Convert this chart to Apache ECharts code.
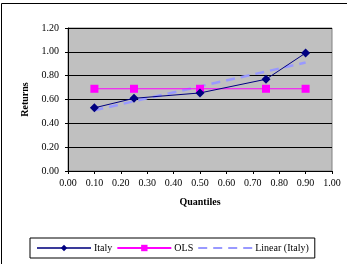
<!DOCTYPE html>
<html>
<head>
<meta charset="utf-8">
<script src="https://cdn.jsdelivr.net/npm/echarts@6/dist/echarts.min.js"></script>
<style>
  html, body { margin: 0; padding: 0; background: #fff; }
  #main { width: 351px; height: 264px; }
</style>
</head>
<body>
<div id="main"></div>
<script>
// data
const quantiles = [0.10, 0.25, 0.50, 0.75, 0.90];
const italy = [0.53, 0.61, 0.655, 0.77, 0.99];
const ols = [0.69, 0.69, 0.69, 0.69, 0.69];
const trendX = [0.10, 0.90];
const trendY = [0.51, 0.91];

const font = 'Liberation Serif';
const chart = echarts.init(document.getElementById('main'));

const option = {
  animation: false,
  textStyle: { fontFamily: font },
  grid: { left: 68, right: 19, top: 28, bottom: 93, show: true, backgroundColor: '#c0c0c0', borderColor: '#808080', borderWidth: 1 },
  xAxis: {
    type: 'value', min: 0, max: 1, interval: 0.1,
    name: 'Quantiles', nameLocation: 'middle', nameGap: 26,
    nameTextStyle: { fontFamily: font, fontWeight: 'bold', fontSize: 10, color: '#000' },
    axisLine: { lineStyle: { color: '#000' } },
    axisTick: { length: 3, lineStyle: { color: '#000' } },
    splitLine: { show: false },
    axisLabel: { fontFamily: font, fontSize: 10, color: '#000', margin: 7, formatter: v => v.toFixed(2) }
  },
  yAxis: {
    type: 'value', min: 0, max: 1.2, interval: 0.2,
    name: 'Returns', nameLocation: 'middle', nameGap: 38, nameRotate: 90,
    nameTextStyle: { fontFamily: font, fontWeight: 'bold', fontSize: 10, color: '#000' },
    axisLine: { show: true, lineStyle: { color: '#000' } },
    axisTick: { show: true, length: 3, lineStyle: { color: '#000' } },
    splitLine: { lineStyle: { color: '#000', width: 1 } },
    axisLabel: { fontFamily: font, fontSize: 10, color: '#000', margin: 9, formatter: v => v.toFixed(2) }
  },
  legend: {
    left: 30, top: 238, width: 280,
    itemWidth: 54, itemHeight: 8, itemGap: 4,
    padding: [5, 6, 5, 6],
    borderColor: '#000', borderWidth: 1, backgroundColor: '#fff',
    textStyle: { fontFamily: font, fontSize: 10, color: '#000', padding: [0, 0, 0, -2] },
    data: [
      { name: 'Italy', lineStyle: { width: 2, color: '#3a3a9a' } },
      'OLS',
      { name: 'Linear (Italy)', itemStyle: { opacity: 0 } }
    ]
  },
  series: [
    {
      name: 'Linear (Italy)', type: 'line', z: 2,
      data: trendX.map((x, i) => [x, trendY[i]]),
      symbol: 'none', lineStyle: { color: '#9999ff', width: 2.5, type: [9, 6] },
      itemStyle: { color: '#9999ff' }
    },
    {
      name: 'OLS', type: 'line', z: 3,
      data: quantiles.map((x, i) => [x, ols[i]]),
      symbol: 'rect', symbolSize: 8,
      lineStyle: { color: '#ff00ff', width: 1 }, itemStyle: { color: '#ff00ff' }
    },
    {
      name: 'Italy', type: 'line', z: 4,
      data: quantiles.map((x, i) => [x, italy[i]]),
      symbol: 'diamond', symbolSize: 9,
      lineStyle: { color: '#000080', width: 1 }, itemStyle: { color: '#000080' }
    }
  ],
  graphic: [
    { type: 'line', shape: { x1: 1.5, y1: 3.5, x2: 347, y2: 3.5 }, style: { stroke: '#000', lineWidth: 1 } },
    { type: 'line', shape: { x1: 1.5, y1: 3.5, x2: 1.5, y2: 264 }, style: { stroke: '#000', lineWidth: 1 } }
  ]
};

chart.setOption(option);
</script>
</body>
</html>
